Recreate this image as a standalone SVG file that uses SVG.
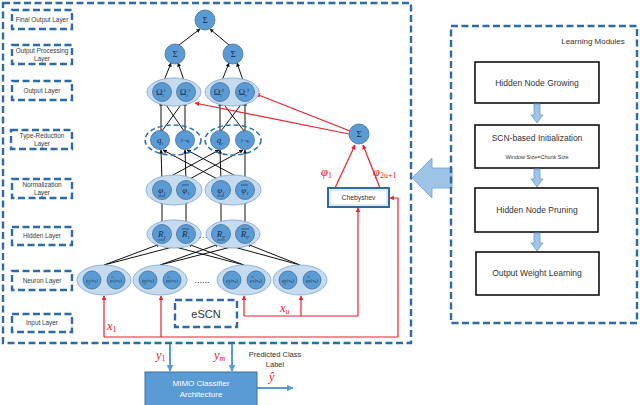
<svg xmlns="http://www.w3.org/2000/svg" width="640" height="405" viewBox="0 0 640 405">
<defs>
<marker id="ab" viewBox="0 0 10 10" refX="9" refY="5" markerWidth="4" markerHeight="4" orient="auto-start-reverse"><path d="M0,0 L10,5 L0,10 z" fill="#111"/></marker>
<marker id="ar" viewBox="0 0 10 10" refX="9" refY="5" markerWidth="4" markerHeight="4" orient="auto-start-reverse"><path d="M0,0 L10,5 L0,10 z" fill="#e8202a"/></marker>
<marker id="au" viewBox="0 0 10 10" refX="9" refY="5" markerWidth="3.5" markerHeight="3.5" orient="auto-start-reverse"><path d="M0,0 L10,5 L0,10 z" fill="#5b9bd5"/></marker>
<style>
.dash{fill:none;stroke:#2e6aa3;stroke-width:2.4;stroke-dasharray:7 3.5}
.lab{font-family:"Liberation Sans",Arial,sans-serif;font-size:6.4px;fill:#3a3a3a;text-anchor:middle}
.ell{fill:#c6dbf0;stroke:#8eb3da;stroke-width:1}
.dell{fill:none;stroke:#2e75b6;stroke-width:1.6;stroke-dasharray:5 3}
.nd{fill:#5b9bd5;stroke:#41719c;stroke-width:0.8}
.nt{font-family:"Liberation Serif","Times New Roman",serif;font-size:9px;fill:#1a2a44;text-anchor:middle}
.ns{font-family:"Liberation Serif","Times New Roman",serif;font-size:5px;fill:#1a2a44;text-anchor:middle}
.bl{stroke:#111;stroke-width:1;fill:none;marker-end:url(#ab)}
.rl{stroke:#e8202a;stroke-width:1.2;fill:none}
.ra{stroke:#e8202a;stroke-width:1.2;fill:none;marker-end:url(#ar)}
.rt{font-family:"Liberation Serif","Times New Roman",serif;font-style:italic;font-size:12.5px;fill:#e8202a}
.mb{fill:#fff;stroke:#111;stroke-width:1.6}
.mt{font-family:"Liberation Sans",Arial,sans-serif;font-size:8.5px;fill:#333;text-anchor:middle}
.ba{fill:#9dc3e6;stroke:#6c9fd0;stroke-width:0.8}
</style>
</defs>
<rect width="640" height="405" fill="#fff"/>

<!-- main dashed container -->
<rect class="dash" x="3" y="3" width="408" height="340"/>

<!-- layer labels -->
<g id="lbl-final"><rect class="dash" x="12" y="10" width="60" height="19"/><text class="lab" x="42" y="22">Final Output Layer</text></g>
<g id="lbl-outproc"><rect class="dash" x="12" y="45" width="60" height="19"/><text class="lab" x="42" y="53">Output Processing</text><text class="lab" x="42" y="61">Layer</text></g>
<g id="lbl-output"><rect class="dash" x="12" y="81" width="60" height="19"/><text class="lab" x="42" y="93">Output Layer</text></g>
<g id="lbl-typered"><rect class="dash" x="11" y="130" width="61" height="19"/><text class="lab" x="42" y="138">Type-Reduction</text><text class="lab" x="42" y="146">Layer</text></g>
<g id="lbl-norm"><rect class="dash" x="12" y="179" width="60" height="19"/><text class="lab" x="42" y="187">Normalization</text><text class="lab" x="42" y="195">Layer</text></g>
<g id="lbl-hidden"><rect class="dash" x="12" y="227" width="60" height="18"/><text class="lab" x="42" y="238">Hidden Layer</text></g>
<g id="lbl-neuron"><rect class="dash" x="12" y="271" width="60" height="19"/><text class="lab" x="42" y="283">Neuron Layer</text></g>
<g id="lbl-input"><rect class="dash" x="12" y="314" width="60" height="18"/><text class="lab" x="42" y="325">Input Layer</text></g>

<!-- connectors -->
<g id="connectors">
<line class="bl" x1="179" y1="45" x2="200" y2="29"/>
<line class="bl" x1="229" y1="45" x2="210" y2="29"/>
<line class="bl" x1="163" y1="83" x2="171" y2="63"/>
<line class="bl" x1="185" y1="83" x2="178" y2="63"/>
<line class="bl" x1="221" y1="83" x2="229" y2="63"/>
<line class="bl" x1="244" y1="83" x2="237" y2="63"/>
<line class="bl" x1="161" y1="131" x2="161" y2="102"/>
<line class="bl" x1="185" y1="131" x2="185" y2="102"/>
<line class="bl" x1="162" y1="131" x2="183" y2="102"/>
<line class="bl" x1="184" y1="131" x2="164" y2="102"/>
<line class="bl" x1="220" y1="131" x2="220" y2="102"/>
<line class="bl" x1="245" y1="131" x2="245" y2="102"/>
<line class="bl" x1="221" y1="131" x2="243" y2="102"/>
<line class="bl" x1="244" y1="131" x2="222" y2="102"/>
<line class="bl" x1="162" y1="181" x2="161" y2="150"/>
<line class="bl" x1="186" y1="181" x2="185" y2="150"/>
<line class="bl" x1="221" y1="181" x2="220" y2="150"/>
<line class="bl" x1="245" y1="181" x2="245" y2="150"/>
<line class="bl" x1="221" y1="181" x2="163" y2="150"/>
<line class="bl" x1="245" y1="181" x2="187" y2="150"/>
<line class="bl" x1="162" y1="181" x2="219" y2="150"/>
<line class="bl" x1="186" y1="181" x2="243" y2="150"/>
<line class="bl" x1="162" y1="225" x2="162" y2="200"/>
<line class="bl" x1="186" y1="225" x2="186" y2="200"/>
<line class="bl" x1="221" y1="225" x2="221" y2="200"/>
<line class="bl" x1="245" y1="225" x2="245" y2="200"/>
<line class="bl" x1="104" y1="265" x2="160" y2="244"/>
<line class="bl" x1="104" y1="265" x2="184" y2="244"/>
<line class="bl" x1="160" y1="265" x2="219" y2="244"/>
<line class="bl" x1="160" y1="265" x2="243" y2="244"/>
<line class="bl" x1="244" y1="265" x2="164" y2="244"/>
<line class="bl" x1="244" y1="265" x2="188" y2="244"/>
<line class="bl" x1="300" y1="265" x2="223" y2="244"/>
<line class="bl" x1="300" y1="265" x2="247" y2="244"/>
<polyline class="rl" points="104,337 398,337"/>
<line class="ra" x1="104" y1="337" x2="104" y2="296"/>
<line class="ra" x1="161" y1="337" x2="161" y2="296"/>
<polyline class="ra" points="398,337 398,198 390,198"/>
<polyline class="rl" points="244,316 358,316"/>
<line class="ra" x1="244" y1="316" x2="244" y2="296"/>
<line class="ra" x1="301" y1="316" x2="301" y2="296"/>
<line class="ra" x1="358" y1="316" x2="358" y2="208"/>
<line class="ra" x1="335" y1="188" x2="355" y2="145"/>
<line class="ra" x1="380" y1="188" x2="363" y2="145"/>
<line class="ra" x1="349" y1="134" x2="195" y2="103"/>
<line class="ra" x1="350" y1="131" x2="256" y2="94"/>
<line stroke="#5b9bd5" stroke-width="2" marker-end="url(#au)" x1="170" y1="344" x2="170" y2="371"/>
<line stroke="#5b9bd5" stroke-width="2" marker-end="url(#au)" x1="232" y1="344" x2="232" y2="371"/>
<line stroke="#5b9bd5" stroke-width="2" marker-end="url(#au)" x1="257" y1="388" x2="293" y2="388"/>
</g>

<g id="sum-top"><circle class="nd" cx="205" cy="20" r="10"/><text class="nt" x="205" y="23">Σ</text></g>
<g id="sum-l"><circle class="nd" cx="175" cy="54" r="10"/><text class="nt" x="175" y="57">Σ</text></g>
<g id="sum-r"><circle class="nd" cx="233" cy="54" r="10"/><text class="nt" x="233" y="57">Σ</text></g>

<g id="out-1"><ellipse class="ell" cx="174" cy="92" rx="27" ry="14"/>
<circle class="nd" cx="162" cy="92" r="9.5"/><text class="nt" x="161" y="95">Ω<tspan font-size="4.5" dy="1.5">l</tspan><tspan font-size="4.5" dy="-5">1</tspan></text>
<circle class="nd" cx="186" cy="92" r="9.5"/><text class="nt" x="185" y="95">Ω<tspan font-size="4.5" dy="1.5">r</tspan><tspan font-size="4.5" dy="-5">1</tspan></text></g>
<g id="out-m"><ellipse class="ell" cx="232" cy="92" rx="27" ry="14"/>
<circle class="nd" cx="220" cy="92" r="9.5"/><text class="nt" x="219" y="95">Ω<tspan font-size="4.5" dy="1.5">l</tspan><tspan font-size="4.5" dy="-5">T</tspan></text>
<circle class="nd" cx="245" cy="92" r="9.5"/><text class="nt" x="244" y="95">Ω<tspan font-size="4.5" dy="1.5">r</tspan><tspan font-size="4.5" dy="-5">T</tspan></text></g>

<g id="tr-1"><ellipse class="dell" cx="173" cy="140" rx="28" ry="15"/>
<circle class="nd" cx="160" cy="140" r="9.5"/><text class="nt" x="160" y="143" font-style="italic">q<tspan font-size="5" dy="1.5">l</tspan></text>
<circle class="nd" cx="185" cy="140" r="9.5"/><text class="ns" x="185" y="142">1−q<tspan font-size="3.5" dy="1">l</tspan></text></g>
<g id="tr-m"><ellipse class="dell" cx="233" cy="140" rx="28" ry="15"/>
<circle class="nd" cx="220" cy="140" r="9.5"/><text class="nt" x="220" y="143" font-style="italic">q<tspan font-size="5" dy="1.5">r</tspan></text>
<circle class="nd" cx="245" cy="140" r="9.5"/><text class="ns" x="245" y="142">1−q<tspan font-size="3.5" dy="1">r</tspan></text></g>

<g id="norm-1"><ellipse class="ell" cx="174" cy="190" rx="28" ry="15"/>
<circle class="nd" cx="162" cy="190" r="9.5"/><text class="nt" x="162" y="193" font-style="italic">φ<tspan font-size="5" dy="1.5">1</tspan></text><line x1="158" y1="196" x2="165" y2="196" stroke="#1a2a44" stroke-width="0.6"/>
<circle class="nd" cx="186" cy="190" r="9.5"/><text class="nt" x="186" y="193" font-style="italic">φ<tspan font-size="5" dy="1.5">1</tspan></text><line x1="182" y1="185" x2="189" y2="185" stroke="#1a2a44" stroke-width="0.6"/></g>
<g id="norm-p"><ellipse class="ell" cx="233" cy="190" rx="28" ry="15"/>
<circle class="nd" cx="221" cy="190" r="9.5"/><text class="nt" x="221" y="193" font-style="italic">φ<tspan font-size="5" dy="1.5">1</tspan></text><line x1="217" y1="196" x2="224" y2="196" stroke="#1a2a44" stroke-width="0.6"/>
<circle class="nd" cx="245" cy="190" r="9.5"/><text class="nt" x="245" y="193" font-style="italic">φ<tspan font-size="5" dy="1.5">1</tspan></text><line x1="241" y1="185" x2="248" y2="185" stroke="#1a2a44" stroke-width="0.6"/></g>

<g id="hid-1"><ellipse class="ell" cx="174" cy="234" rx="27" ry="14"/>
<circle class="nd" cx="162" cy="234" r="9.5"/><text class="nt" x="162" y="237" font-style="italic">R<tspan font-size="5" dy="1.5">1</tspan></text><line x1="158" y1="240" x2="165" y2="240" stroke="#1a2a44" stroke-width="0.6"/>
<circle class="nd" cx="186" cy="234" r="9.5"/><text class="nt" x="186" y="237" font-style="italic">R<tspan font-size="5" dy="1.5">1</tspan></text><line x1="182" y1="229" x2="189" y2="229" stroke="#1a2a44" stroke-width="0.6"/></g>
<text class="nt" x="203" y="238">…</text>
<g id="hid-p"><ellipse class="ell" cx="233" cy="234" rx="27" ry="14"/>
<circle class="nd" cx="221" cy="234" r="9.5"/><text class="nt" x="221" y="237" font-style="italic">R<tspan font-size="5" dy="1.5">P</tspan></text><line x1="217" y1="240" x2="225" y2="240" stroke="#1a2a44" stroke-width="0.6"/>
<circle class="nd" cx="245" cy="234" r="9.5"/><text class="nt" x="245" y="237" font-style="italic">R<tspan font-size="5" dy="1.5">P</tspan></text><line x1="241" y1="229" x2="249" y2="229" stroke="#1a2a44" stroke-width="0.6"/></g>

<g id="neu-1"><ellipse class="ell" cx="104" cy="280" rx="27" ry="15"/>
<circle class="nd" cx="92" cy="280" r="9"/><text class="ns" x="92" y="282">μ<tspan font-size="3.5" dy="1">1</tspan><tspan dy="-1">(x</tspan><tspan font-size="3.5" dy="1">1</tspan><tspan dy="-1">)</tspan></text><line x1="87" y1="284" x2="90" y2="284" stroke="#1a2a44" stroke-width="0.4"/>
<circle class="nd" cx="116" cy="280" r="9"/><text class="ns" x="116" y="282">μ<tspan font-size="3.5" dy="1">1</tspan><tspan dy="-1">(x</tspan><tspan font-size="3.5" dy="1">1</tspan><tspan dy="-1">)</tspan></text><line x1="111" y1="277" x2="114" y2="277" stroke="#1a2a44" stroke-width="0.4"/></g>
<g id="neu-2"><ellipse class="ell" cx="160" cy="280" rx="27" ry="15"/>
<circle class="nd" cx="148" cy="280" r="9"/><text class="ns" x="148" y="282">μ<tspan font-size="3.5" dy="1">P</tspan><tspan dy="-1">(x</tspan><tspan font-size="3.5" dy="1">1</tspan><tspan dy="-1">)</tspan></text><line x1="143" y1="284" x2="146" y2="284" stroke="#1a2a44" stroke-width="0.4"/>
<circle class="nd" cx="172" cy="280" r="9"/><text class="ns" x="172" y="282">μ<tspan font-size="3.5" dy="1">P</tspan><tspan dy="-1">(x</tspan><tspan font-size="3.5" dy="1">1</tspan><tspan dy="-1">)</tspan></text><line x1="167" y1="277" x2="170" y2="277" stroke="#1a2a44" stroke-width="0.4"/></g>
<text x="202" y="283" font-family="Liberation Sans,sans-serif" font-size="9" fill="#222" text-anchor="middle">......</text>
<g id="neu-3"><ellipse class="ell" cx="244" cy="280" rx="27" ry="15"/>
<circle class="nd" cx="232" cy="280" r="9"/><text class="ns" x="232" y="282">μ<tspan font-size="3.5" dy="1">1</tspan><tspan dy="-1">(x</tspan><tspan font-size="3.5" dy="1">u</tspan><tspan dy="-1">)</tspan></text><line x1="227" y1="284" x2="230" y2="284" stroke="#1a2a44" stroke-width="0.4"/>
<circle class="nd" cx="256" cy="280" r="9"/><text class="ns" x="256" y="282">μ<tspan font-size="3.5" dy="1">1</tspan><tspan dy="-1">(x</tspan><tspan font-size="3.5" dy="1">u</tspan><tspan dy="-1">)</tspan></text><line x1="251" y1="277" x2="254" y2="277" stroke="#1a2a44" stroke-width="0.4"/></g>
<g id="neu-4"><ellipse class="ell" cx="300" cy="280" rx="27" ry="15"/>
<circle class="nd" cx="288" cy="280" r="9"/><text class="ns" x="288" y="282">μ<tspan font-size="3.5" dy="1">P</tspan><tspan dy="-1">(x</tspan><tspan font-size="3.5" dy="1">u</tspan><tspan dy="-1">)</tspan></text><line x1="283" y1="284" x2="286" y2="284" stroke="#1a2a44" stroke-width="0.4"/>
<circle class="nd" cx="312" cy="280" r="9"/><text class="ns" x="312" y="282">μ<tspan font-size="3.5" dy="1">P</tspan><tspan dy="-1">(x</tspan><tspan font-size="3.5" dy="1">u</tspan><tspan dy="-1">)</tspan></text><line x1="307" y1="277" x2="310" y2="277" stroke="#1a2a44" stroke-width="0.4"/></g>

<g id="escn"><rect class="dash" x="175" y="300" width="62" height="27"/><text x="206" y="318" font-family="Liberation Sans,sans-serif" font-size="11" fill="#333" text-anchor="middle">eSCN</text></g>

<g id="sum-cheb"><circle class="nd" cx="359" cy="134" r="10"/><text class="nt" x="359" y="137">Σ</text></g>
<g id="cheb"><rect x="328" y="188" width="61" height="19" fill="#fff" stroke="#2e6aa3" stroke-width="2"/><rect x="330" y="190" width="57" height="15" fill="none" stroke="#9dbfe0" stroke-width="0.6"/><text x="358.5" y="200" font-family="Liberation Sans,sans-serif" font-size="6.8" fill="#333" text-anchor="middle">Chebyshev</text></g>

<text class="rt" x="321" y="176">φ<tspan font-size="8" font-style="normal" dy="2">1</tspan></text>
<text class="rt" x="373" y="176">φ<tspan font-size="8" font-style="normal" dy="2">2u+1</tspan></text>
<text class="rt" x="280" y="312">x<tspan font-size="8" dy="2">u</tspan></text>
<text class="rt" x="107" y="330">x<tspan font-size="8" font-style="normal" dy="2">1</tspan></text>
<text class="rt" x="156" y="359">y<tspan font-size="8" font-style="normal" dy="2">1</tspan></text>
<text class="rt" x="214" y="359">y<tspan font-size="8" dy="2">m</tspan></text>
<text class="rt" x="269" y="381">ŷ</text>

<g id="mimo"><rect x="145" y="372" width="112" height="36" fill="#5b9bd5" stroke="#41719c" stroke-width="1"/>
<text x="201" y="386" font-family="Liberation Sans,sans-serif" font-size="8" fill="#fff" text-anchor="middle">MIMO Classifier</text>
<text x="201" y="397" font-family="Liberation Sans,sans-serif" font-size="8" fill="#fff" text-anchor="middle">Architecture</text></g>
<g id="pred"><text x="275" y="357" font-family="Liberation Sans,sans-serif" font-size="7.5" fill="#333" text-anchor="middle">Predicted Class</text><text x="275" y="367" font-family="Liberation Sans,sans-serif" font-size="7.5" fill="#333" text-anchor="middle">Label</text></g>

<path class="ba" d="M412,178 L432,158 L432,168 L452,168 L452,188 L432,188 L432,198 Z"/>

<rect class="dash" x="451" y="26" width="186" height="297"/>
<text x="593" y="44" font-family="Liberation Sans,sans-serif" font-size="8" fill="#333" text-anchor="middle">Learning Modules</text>
<g id="m-grow"><rect class="mb" x="475" y="62" width="124" height="41"/><text class="mt" x="537" y="86">Hidden Node Growing</text></g>
<path class="ba" d="M534,104 L540,104 L540,115 L543,115 L537,123 L531,115 L534,115 Z"/>
<g id="m-init"><rect class="mb" x="475" y="125" width="124" height="43"/><text class="mt" x="537" y="141">SCN-based Initialization</text><text x="537" y="159" font-family="Liberation Sans,sans-serif" font-size="5.5" fill="#333" text-anchor="middle">Window Size=Chunk Size</text></g>
<path class="ba" d="M534,169 L540,169 L540,179 L543,179 L537,187 L531,179 L534,179 Z"/>
<g id="m-prune"><rect class="mb" x="475" y="188" width="123" height="44"/><text class="mt" x="537" y="213">Hidden Node Pruning</text></g>
<path class="ba" d="M534,233 L540,233 L540,243 L543,243 L537,251 L531,243 L534,243 Z"/>
<g id="m-weight"><rect class="mb" x="476" y="252" width="123" height="43"/><text class="mt" x="537" y="276">Output Weight Learning</text></g>
</svg>
